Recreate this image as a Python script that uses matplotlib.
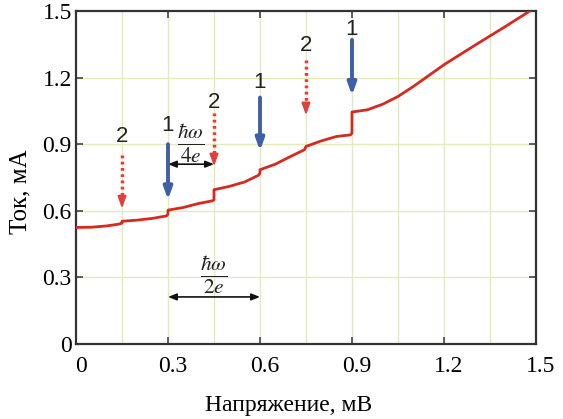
import matplotlib
matplotlib.use("Agg")
import matplotlib.pyplot as plt
import matplotlib.transforms as mtransforms

# Data
voltage = [0.0, 0.05, 0.10, 0.14, 0.15, 0.15, 0.20, 0.25, 0.295, 0.30, 0.30, 0.35, 0.40,
           0.445, 0.45, 0.45, 0.50, 0.55, 0.595, 0.60, 0.60, 0.65, 0.70, 0.745, 0.75,
           0.80, 0.85, 0.895, 0.90, 0.90, 0.95, 1.00, 1.05, 1.10, 1.20, 1.30, 1.40, 1.48]
current = [0.525, 0.526, 0.532, 0.540, 0.545, 0.553, 0.558, 0.566, 0.577, 0.585, 0.603, 0.615, 0.633,
           0.645, 0.650, 0.695, 0.710, 0.730, 0.760, 0.770, 0.785, 0.810, 0.845, 0.875, 0.890,
           0.915, 0.935, 0.942, 0.950, 1.045, 1.055, 1.080, 1.115, 1.160, 1.258, 1.345, 1.430, 1.500]

# Arrows: x position, top, tip, label
arrow_x = [0.15, 0.30, 0.45, 0.60, 0.75, 0.90]
arrow_top = [0.85, 0.90, 1.04, 1.11, 1.28, 1.37]
arrow_tip = [0.61, 0.65, 0.80, 0.87, 1.03, 1.12]
arrow_label = ["2", "1", "2", "1", "2", "1"]
label_y = [0.935, 0.985, 1.09, 1.18, 1.345, 1.415]

x_ticks = [0, 0.3, 0.6, 0.9, 1.2, 1.5]
x_ticklabels = ["0", "0.3", "0.6", "0.9", "1.2", "1.5"]
y_ticks = [0, 0.3, 0.6, 0.9, 1.2, 1.5]
y_ticklabels = ["0", "0.3", "0.6", "0.9", "1.2", "1.5"]

plt.rcParams['mathtext.fontset'] = 'stix'
serif = 'Liberation Serif'

fig = plt.figure(figsize=(5.63, 4.19), dpi=100)
ax = fig.add_axes([0.135, 0.179, 0.817, 0.7947])

grid_c = '#e4ebb8'
for gx in [0.15, 0.3, 0.45, 0.6, 0.75, 0.9, 1.05, 1.2, 1.35]:
    ax.axvline(gx, color=grid_c, lw=1.0, zorder=0)
for gy in [0.3, 0.6, 0.9, 1.2]:
    ax.axhline(gy, color=grid_c, lw=1.0, zorder=0)

ax.plot(voltage, current, color='#d42a20', lw=2.0, zorder=3)

blue = '#3f5fa8'
red = '#e0403a'
for x, top, tip, lab, ly in zip(arrow_x, arrow_top, arrow_tip, arrow_label, label_y):
    if lab == "1":
        ax.annotate('', xy=(x, tip), xytext=(x, top),
                    arrowprops=dict(arrowstyle='-|>,head_width=0.25,head_length=0.7',
                                    color=blue, lw=2.8, shrinkA=0, shrinkB=0), zorder=4)
    else:
        ax.plot([x, x], [top, tip + 0.04], color=red, lw=2.5, ls=(0, (0.8, 1.0)), zorder=4)
        ax.annotate('', xy=(x, tip), xytext=(x, tip + 0.05),
                    arrowprops=dict(arrowstyle='-|>,head_width=0.25,head_length=0.7',
                                    color=red, lw=1.5, shrinkA=0, shrinkB=0), zorder=4)
    ax.text(x, ly, lab, ha='center', va='center', fontsize=16, color='#222222',
            family='Liberation Sans')

# double arrows
ax.annotate('', xy=(0.30, 0.81), xytext=(0.45, 0.81),
            arrowprops=dict(arrowstyle='<|-|>,head_width=0.2,head_length=0.5', color='#111111',
                            lw=1.2, shrinkA=0, shrinkB=0))
ax.text(0.375, 0.905, r'$\frac{\hbar\omega}{4e}$', ha='center', va='center', fontsize=22, color='#222222')
ax.annotate('', xy=(0.30, 0.212), xytext=(0.60, 0.212),
            arrowprops=dict(arrowstyle='<|-|>,head_width=0.2,head_length=0.5', color='#111111',
                            lw=1.2, shrinkA=0, shrinkB=0))
ax.text(0.45, 0.315, r'$\frac{\hbar\omega}{2e}$', ha='center', va='center', fontsize=22, color='#222222')

ax.set_xlim(0, 1.5)
ax.set_ylim(0, 1.5)
ax.set_xticks(x_ticks)
ax.set_xticklabels(x_ticklabels, family=serif, fontsize=17)
ax.set_yticks(y_ticks)
ax.set_yticklabels(y_ticklabels, family=serif, fontsize=17)
ax.tick_params(direction='in', length=5, width=1.2, color='#444444', top=True, right=True)
ax.tick_params(axis='x', pad=9)
ax.tick_params(axis='y', pad=3)
shift = mtransforms.ScaledTranslation(0.05, 0, fig.dpi_scale_trans)
for lbl in ax.get_xticklabels():
    lbl.set_transform(lbl.get_transform() + shift)
for s in ax.spines.values():
    s.set_color('#333333')
    s.set_linewidth(1.6)

ax.set_xlabel('Напряжение, мВ', family=serif, fontsize=17)
ax.set_ylabel('Ток, мА', family=serif, fontsize=18)
ax.xaxis.set_label_coords(0.463, -0.153)
ax.yaxis.set_label_coords(-0.096, 0.456)

fig.savefig('out.png', dpi=100)
